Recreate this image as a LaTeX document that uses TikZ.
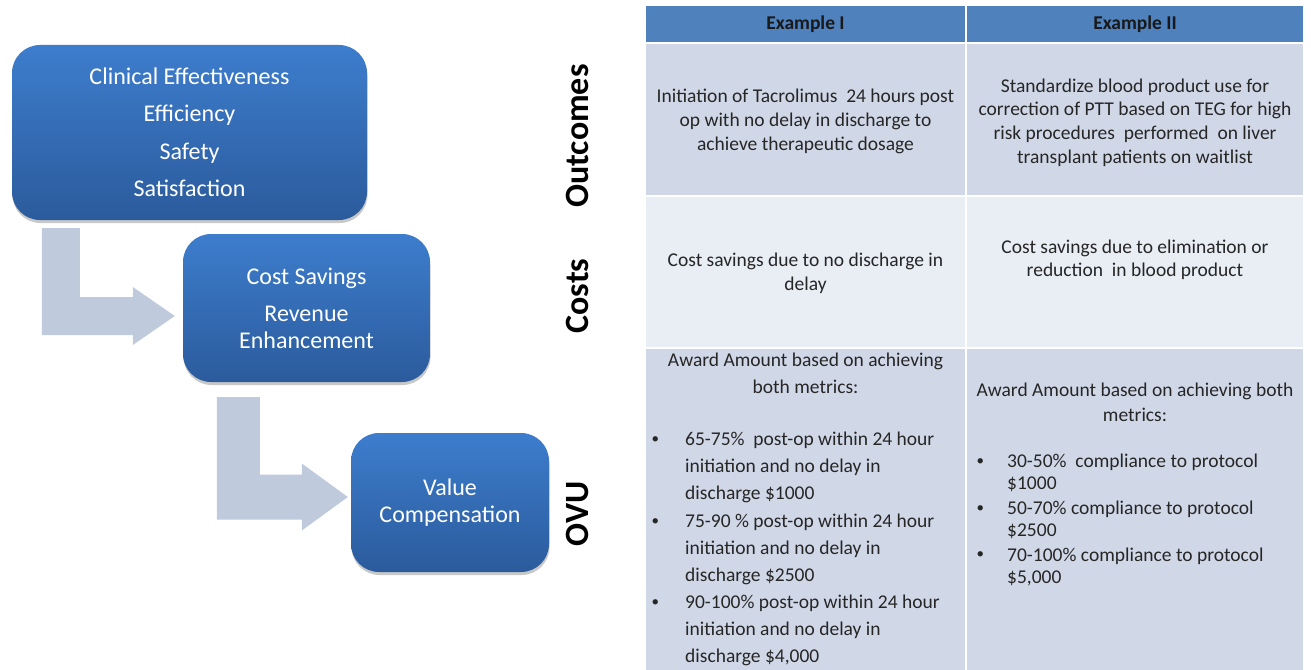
\documentclass[tikz,border=0pt]{standalone}
\usepackage{fontspec}
\setmainfont{Carlito}
\usetikzlibrary{calc,shadows}

\definecolor{boxtop}{HTML}{3D7DCD}
\definecolor{boxbot}{HTML}{2B5B9C}
\definecolor{flowfill}{HTML}{BFCADD}
\definecolor{headfill}{HTML}{4F81BD}
\definecolor{rowdark}{HTML}{D0D8E8}
\definecolor{rowlight}{HTML}{E9EDF4}
\definecolor{bodytext}{HTML}{262626}

\tikzset{
  stagebox/.style={rounded corners=28pt, top color=boxtop, bottom color=boxbot,
    draw=none, inner sep=0pt, align=center, text=white,
    font=\fontsize{24}{27}\selectfont,
    drop shadow={shadow xshift=0.5pt, shadow yshift=-3pt, opacity=0.3, fill=black!70}},
  flowarrow/.style={fill=flowfill},
  cell/.style={draw=white, line width=2pt, inner sep=0pt, outer sep=0pt,
    anchor=north west},
  headcell/.style={cell, fill=headfill},
  darkcell/.style={cell, fill=rowdark},
  lightcell/.style={cell, fill=rowlight},
  headtext/.style={font=\bfseries\fontsize{19.5}{24}\selectfont, text=black!90},
  celltext/.style={align=center, text=bodytext, inner sep=0pt},
  itemtext/.style={align=left, text=bodytext, inner sep=0pt, anchor=west},
  rowlabel/.style={rotate=90, font=\bfseries\fontsize{34}{38}\selectfont, text=black}
}

% small list bullet hung to the left of an item's first line
\newcommand{\bul}[1]{\llap{\raisebox{0.12em}{\fontsize{15}{15}\selectfont\textbullet}\hspace{#1}}}

\begin{document}
\begin{tikzpicture}[x=1pt,y=-1pt]
\useasboundingbox (0,0) rectangle (1311,669);
\fill[white] (0,0) rectangle (1311,669);

% --- value chain: three stages
\node[stagebox, minimum width=355pt, minimum height=175pt] (b1) at (189.5,132.5)
  {Clinical Effectiveness\\[10.5pt]Efficiency\\[10.5pt]Safety\\[10.5pt]Satisfaction};
\node[stagebox, minimum width=247pt, minimum height=148pt] (b2) at (306.5,308)
  {Cost Savings\\[10pt]Revenue\\Enhancement};
\node[stagebox, minimum width=198pt, minimum height=139pt] (b3) at (450,502.5)
  {Value\\Compensation};

% --- bent block arrows between the stages
\fill[flowarrow] let \p1=(b1.south west), \p2=(b2.west) in
  (\x1+30pt,\y1-8pt) -- (\x1+68pt,\y1-8pt) -- (\x1+68pt,\y2+11pt)
  -- (\x2-50pt,\y2+11pt) -- (\x2-50pt,\y2+21pt) -- (\x2-8pt,\y2-8pt)
  -- (\x2-50pt,\y2-37pt) -- (\x2-50pt,\y2-27pt) -- (\x1+30pt,\y2-27pt) -- cycle;
\fill[flowarrow] let \p1=(b2.south west), \p2=(b3.west) in
  (\x1+34pt,\y1-15pt) -- (\x1+77pt,\y1-15pt) -- (\x1+77pt,\y2+28pt)
  -- (\x2-49pt,\y2+28pt) -- (\x2-49pt,\y2+39pt) -- (\x2-3pt,\y2+5.5pt)
  -- (\x2-49pt,\y2-28pt) -- (\x2-49pt,\y2-17pt) -- (\x1+34pt,\y2-17pt) -- cycle;

% --- row labels
\node[rowlabel] (lout) at (577,136) {Outcomes};
\node[rowlabel] (lcost) at (577,296) {Costs};
\node[rowlabel] (lovu) at (577,514) {OVU};

% --- table cells
\node[headcell, minimum width=321pt, minimum height=38pt] (h1) at (645,5) {};
\node[headcell, minimum width=338pt, minimum height=38pt] (h2) at (966,5) {};
\node[darkcell, minimum width=321pt, minimum height=153pt] (c11) at (645,43) {};
\node[darkcell, minimum width=338pt, minimum height=153pt] (c12) at (966,43) {};
\node[lightcell, minimum width=321pt, minimum height=152pt] (c21) at (645,196) {};
\node[lightcell, minimum width=338pt, minimum height=152pt] (c22) at (966,196) {};
\node[darkcell, minimum width=321pt, minimum height=323pt] (c31) at (645,348) {};
\node[darkcell, minimum width=338pt, minimum height=323pt] (c32) at (966,348) {};

% --- header texts
\node[headtext] (t01) at (h1.center) {Example I};
\node[headtext] (t02) at (h2.center) {Example II};

% --- outcomes row
\node[celltext, font=\fontsize{19.5}{24}\selectfont] (t11) at (805.5,121)
  {Initiation of Tacrolimus\ \ 24 hours post\\op with no delay in discharge to\\achieve therapeutic dosage};
\node[celltext, font=\fontsize{19.5}{23.7}\selectfont] (t12) at (1135,122.5)
  {Standardize blood product use for\\correction of PTT based on TEG for high\\risk procedures\ \ performed\ \ on liver\\transplant patients on waitlist};

% --- costs row
\node[celltext, font=\fontsize{19.5}{23.5}\selectfont] (t21) at (805.5,273.5)
  {Cost savings due to no discharge in\\delay};
\node[celltext, font=\fontsize{19.5}{23.5}\selectfont] (t22) at (1135,260)
  {Cost savings due to elimination or\\reduction\ \ in blood product};

% --- OVU row, first example
\node[celltext, font=\fontsize{19.5}{27}\selectfont] (t31) at (805.5,373.5)
  {Award Amount based on achieving\\both metrics:};
\node[itemtext, font=\fontsize{19.5}{27}\selectfont] (i1) at (685,467.5)
  {\bul{26pt}65-75\%\ \ post-op within 24 hour\\initiation and no delay in\\discharge \$1000};
\node[itemtext, font=\fontsize{19.5}{27}\selectfont] (i2) at (685,549.5)
  {\bul{26pt}75-90 \% post-op within 24 hour\\initiation and no delay in\\discharge \$2500};
\node[itemtext, font=\fontsize{19.5}{27}\selectfont] (i3) at (685,630.5)
  {\bul{26pt}90-100\% post-op within 24 hour\\initiation and no delay in\\discharge \$4,000};

% --- OVU row, second example
\node[celltext, font=\fontsize{19.5}{24.5}\selectfont] (t32) at (1135,402.5)
  {Award Amount based on achieving both\\metrics:};
\node[itemtext, font=\fontsize{19.5}{22.5}\selectfont] (j1) at (1007,473)
  {\bul{23pt}30-50\%\ \ compliance to protocol\\\$1000};
\node[itemtext, font=\fontsize{19.5}{22.5}\selectfont] (j2) at (1007,520)
  {\bul{23pt}50-70\% compliance to protocol\\\$2500};
\node[itemtext, font=\fontsize{19.5}{22.5}\selectfont] (j3) at (1007,567)
  {\bul{23pt}70-100\% compliance to protocol\\\$5,000};
\end{tikzpicture}
\end{document}
